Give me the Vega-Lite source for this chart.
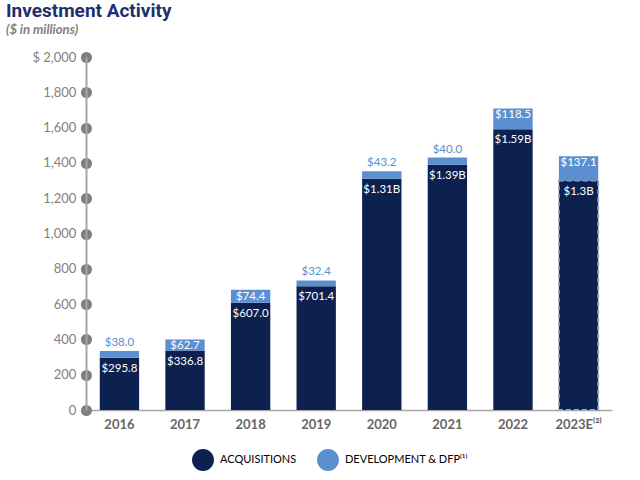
{
  "$schema": "https://vega.github.io/schema/vega-lite/v6.json",
  "autosize": "none",
  "width": 526,
  "height": 353,
  "padding": {"left": 86, "top": 57, "right": 28, "bottom": 70},
  "background": "white",
  "title": {
    "text": "Investment Activity",
    "subtitle": "($ in millions)",
    "anchor": "start",
    "frame": "group",
    "dx": -80,
    "offset": 14,
    "font": "Roboto",
    "fontSize": 19,
    "fontWeight": "bold",
    "color": "#1f2f6e",
    "subtitleFont": "Lato",
    "subtitleFontSize": 13,
    "subtitleFontWeight": "bold",
    "subtitleFontStyle": "italic",
    "subtitleColor": "#7f7f7f",
    "subtitlePadding": 3
  },
  "config": {"view": {"stroke": null}, "font": "Lato"},
  "data": {
    "values": [
      {"year": "2016", "series": "ACQUISITIONS", "value": 295.8, "label": "$295.8"},
      {"year": "2016", "series": "DEVELOPMENT & DFP⁽¹⁾", "value": 38.0, "label": "$38.0"},
      {"year": "2017", "series": "ACQUISITIONS", "value": 336.8, "label": "$336.8"},
      {"year": "2017", "series": "DEVELOPMENT & DFP⁽¹⁾", "value": 62.7, "label": "$62.7"},
      {"year": "2018", "series": "ACQUISITIONS", "value": 607.0, "label": "$607.0"},
      {"year": "2018", "series": "DEVELOPMENT & DFP⁽¹⁾", "value": 74.4, "label": "$74.4"},
      {"year": "2019", "series": "ACQUISITIONS", "value": 701.4, "label": "$701.4"},
      {"year": "2019", "series": "DEVELOPMENT & DFP⁽¹⁾", "value": 32.4, "label": "$32.4"},
      {"year": "2020", "series": "ACQUISITIONS", "value": 1310, "label": "$1.31B"},
      {"year": "2020", "series": "DEVELOPMENT & DFP⁽¹⁾", "value": 43.2, "label": "$43.2"},
      {"year": "2021", "series": "ACQUISITIONS", "value": 1390, "label": "$1.39B"},
      {"year": "2021", "series": "DEVELOPMENT & DFP⁽¹⁾", "value": 40.0, "label": "$40.0"},
      {"year": "2022", "series": "ACQUISITIONS", "value": 1590, "label": "$1.59B"},
      {"year": "2022", "series": "DEVELOPMENT & DFP⁽¹⁾", "value": 118.5, "label": "$118.5"},
      {"year": "2023E", "series": "ACQUISITIONS", "value": 1300, "label": "$1.3B"},
      {"year": "2023E", "series": "DEVELOPMENT & DFP⁽¹⁾", "value": 137.1, "label": "$137.1"}
    ]
  },
  "transform": [
    {"stack": "value", "groupby": ["year"], "sort": [{"field": "series", "order": "ascending"}], "as": ["v0", "v1"]}
  ],
  "encoding": {
    "x": {
      "field": "year",
      "type": "nominal",
      "sort": null,
      "scale": {"paddingInner": 0.4, "paddingOuter": 0.21},
      "axis": {
        "title": null,
        "labelAngle": 0,
        "ticks": false,
        "domainColor": "#a6a6a6",
        "domainWidth": 1.5,
        "labelFont": "Lato",
        "labelFontSize": 13,
        "labelFontWeight": "bold",
        "labelColor": "#666666",
        "labelPadding": 8,
        "labelExpr": "datum.value == '2023E' ? '2023E⁽²⁾' : datum.value"
      }
    },
    "y": {
      "field": "v1",
      "type": "quantitative",
      "scale": {"domain": [0, 2000], "nice": false},
      "axis": {
        "title": null,
        "values": [0, 200, 400, 600, 800, 1000, 1200, 1400, 1600, 1800, 2000],
        "grid": false,
        "labelOverlap": false,
        "domainColor": "#a6a6a6",
        "domainWidth": 2,
        "tickColor": "#7f7f7f",
        "tickSize": 0.1,
        "tickWidth": 11,
        "tickCap": "round",
        "labelPadding": 10,
        "labelFont": "Lato",
        "labelFontSize": 13,
        "labelColor": "#7f7f7f",
        "labelExpr": "datum.value == 2000 ? '$ 2,000' : format(datum.value, ',')"
      }
    }
  },
  "layer": [
    {
      "mark": {"type": "bar"},
      "encoding": {
        "y2": {"field": "v0"},
        "color": {
          "field": "series",
          "type": "nominal",
          "scale": {"domain": ["ACQUISITIONS", "DEVELOPMENT & DFP⁽¹⁾"], "range": ["#0c2150", "#5b8fd0"]},
          "legend": {
            "title": null,
            "orient": "none",
            "legendX": 106,
            "legendY": 392,
            "direction": "horizontal",
            "symbolType": "circle",
            "symbolSize": 480,
            "symbolStrokeWidth": 0,
            "columnPadding": 20,
            "labelFont": "Lato",
            "labelFontSize": 11,
            "labelOffset": 6,
            "encode": {
              "labels": {
                "update": {
                  "fill": {"signal": "datum.value == 'ACQUISITIONS' ? '#1b2a55' : '#5b8fd0'"}
                }
              }
            }
          }
        },
        "stroke": {
          "condition": {"test": "datum.year == '2023E' && datum.series == 'ACQUISITIONS'", "value": "#9aa5c0"},
          "value": null
        },
        "strokeDash": {
          "condition": {"test": "datum.year == '2023E'", "value": [5, 3]},
          "value": [1, 0]
        },
        "strokeWidth": {"value": 1.8}
      }
    },
    {
      "transform": [{"filter": "datum.series == 'ACQUISITIONS'"}],
      "mark": {"type": "text", "baseline": "top", "dy": 5, "font": "Lato", "fontSize": 11.5, "color": "white"},
      "encoding": {
        "text": {"field": "label"}
      }
    },
    {
      "transform": [{"filter": "datum.series != 'ACQUISITIONS' && datum.value >= 50"}],
      "mark": {"type": "text", "baseline": "top", "dy": 1, "font": "Lato", "fontSize": 11.5, "color": "white"},
      "encoding": {
        "text": {"field": "label"}
      }
    },
    {
      "transform": [{"filter": "datum.series != 'ACQUISITIONS' && datum.value < 50"}],
      "mark": {"type": "text", "baseline": "bottom", "dy": -3, "font": "Lato", "fontSize": 11.5, "color": "#5b8fd0"},
      "encoding": {
        "text": {"field": "label"}
      }
    }
  ]
}
